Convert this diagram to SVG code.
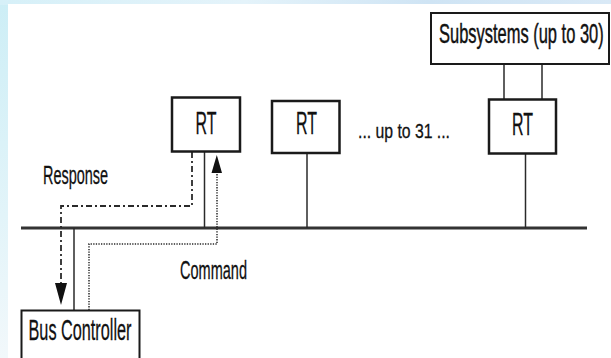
<svg xmlns="http://www.w3.org/2000/svg" width="611" height="358" viewBox="0 0 611 358">
  <defs>
    <linearGradient id="bgTop" x1="0" y1="0" x2="1" y2="0">
      <stop offset="0" stop-color="#d6f0f8"/>
      <stop offset="0.4" stop-color="#e4f3fa"/>
      <stop offset="0.7" stop-color="#cfe4f4"/>
      <stop offset="1" stop-color="#d9e9f6"/>
    </linearGradient>
    <linearGradient id="bgLeft" x1="0" y1="0" x2="0" y2="1">
      <stop offset="0" stop-color="#cdeef6"/>
      <stop offset="0.6" stop-color="#e2f4f9"/>
      <stop offset="1" stop-color="#f2f8fb"/>
    </linearGradient>
  </defs>
  <style>
    .box { fill: #ffffff; stroke: #1a1a1a; stroke-width: 2; }
    .ln { fill: none; stroke: #2a2a2a; stroke-width: 1.5; }
    .bus { fill: none; stroke: #333333; stroke-width: 3; }
    .resp { fill: none; stroke: #2a2a2a; stroke-width: 1.8; stroke-dasharray: 6 3 2 3; }
    .cmd { fill: none; stroke: #2a2a2a; stroke-width: 1.5; stroke-dasharray: 1.3 1.3; }
    .head { fill: #111111; stroke: none; }
    text { font-family: "Liberation Sans", Arial, sans-serif; fill: #111111; stroke: #111111; stroke-width: 0.3; }
  </style>

  <!-- slide background -->
  <rect x="0" y="0" width="611" height="358" fill="url(#bgLeft)"/>
  <rect x="0" y="0" width="611" height="5" fill="url(#bgTop)"/>
  <rect x="8" y="4" width="603" height="354" fill="#ffffff"/>

  <!-- connectors -->
  <g id="connectors">
    <line class="bus" x1="21" y1="228" x2="587" y2="228"/>
    <line class="ln" x1="504" y1="64" x2="504" y2="99"/>
    <line class="ln" x1="542" y1="64" x2="542" y2="99"/>
    <line class="ln" x1="204.5" y1="152" x2="204.5" y2="228"/>
    <line class="ln" x1="307" y1="153" x2="307" y2="228"/>
    <line class="ln" x1="525.5" y1="154" x2="525.5" y2="228"/>
    <line class="ln" x1="74" y1="228" x2="74" y2="310"/>
    <path class="resp" d="M192,152 L192,206 L61,206 L61,284"/>
    <polygon class="head" points="55,283 67,283 61,305"/>
    <path class="cmd" d="M89,310 L89,244 L217,244 L217,172"/>
    <polygon class="head" points="211.5,173 222,173 216.8,155"/>
  </g>

  <g id="subsystems">
    <rect class="box" x="431" y="13" width="178" height="51"/>
    <g transform="translate(439,43) scale(0.61,1)">
      <text x="0" y="0" font-size="27" textLength="270" lengthAdjust="spacingAndGlyphs" style="stroke-width:0.45">Subsystems (up to 30)</text>
    </g>
  </g>

  <g id="rt1">
    <rect class="box" x="172" y="97.5" width="68" height="54" style="stroke-width:2.5"/>
    <text x="195.5" y="134" font-size="32" textLength="21" lengthAdjust="spacingAndGlyphs">RT</text>
  </g>

  <g id="rt2">
    <rect class="box" x="272" y="101" width="67.5" height="52" style="stroke-width:2.5"/>
    <text x="296" y="134" font-size="32" textLength="21" lengthAdjust="spacingAndGlyphs">RT</text>
  </g>

  <g id="ellipsis">
    <text x="358" y="138" font-size="21" textLength="92" lengthAdjust="spacingAndGlyphs">... up to 31 ...</text>
  </g>

  <g id="rt3">
    <rect class="box" x="489" y="99.5" width="67" height="54" style="stroke-width:2.5"/>
    <text x="512" y="135" font-size="32" textLength="21" lengthAdjust="spacingAndGlyphs">RT</text>
  </g>

  <g id="response-label">
    <text x="43" y="184" font-size="26" textLength="65" lengthAdjust="spacingAndGlyphs">Response</text>
  </g>

  <g id="command-label">
    <text x="180" y="279" font-size="26" textLength="67" lengthAdjust="spacingAndGlyphs">Command</text>
  </g>

  <g id="bus-controller">
    <rect class="box" x="21.5" y="310.5" width="118" height="60"/>
    <text x="28.5" y="340" font-size="30" textLength="103" lengthAdjust="spacingAndGlyphs">Bus Controller</text>
  </g>
</svg>
